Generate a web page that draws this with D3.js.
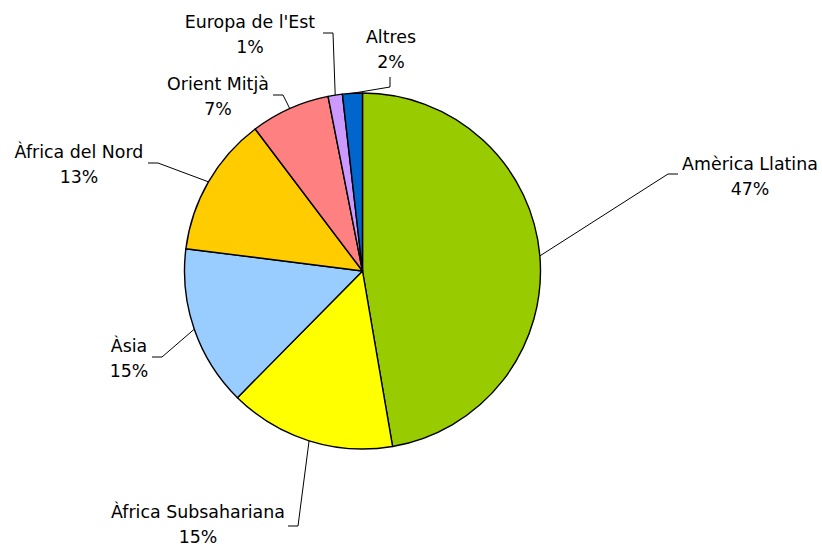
<!DOCTYPE html>
<html>
<head>
<meta charset="utf-8">
<script src="https://cdn.jsdelivr.net/npm/d3@7"></script>
<style>
  body { margin: 0; background: #fff; }
  text { font-family: "DejaVu Sans", Verdana, sans-serif; font-size: 17.4px; fill: #000; }
</style>
</head>
<body>
<script>
// Data (share of total, %), clockwise from 12 o'clock
const regions = ['Amèrica Llatina', 'Àfrica Subsahariana', 'Àsia', 'Àfrica del Nord', 'Orient Mitjà', "Europa de l'Est", 'Altres'];
const shares = [47.3, 15.1, 14.6, 12.7, 7.2, 1.3, 1.8];
const colors = ['#99cc00', '#ffff00', '#99ccff', '#ffcc00', '#ff8080', '#cc99ff', '#0066cc'];

// Label layout: text centre / first baseline, leader elbow and leader tail
const labelLayout = [
  {x: 750, y: 170, elbow: [668, 174], tail: [678, 174]},
  {x: 198, y: 518, elbow: [298, 526], tail: [288, 526]},
  {x: 129, y: 352, elbow: [162, 357], tail: [152, 357]},
  {x: 79, y: 158, elbow: [158, 163], tail: [148, 163]},
  {x: 218, y: 90, elbow: [283, 95], tail: [273, 95]},
  {x: 250, y: 28, elbow: [333, 33], tail: [323, 33]},
  {x: 391, y: 43, elbow: [390, 87], tail: [390, 77]}
];

const width = 822, height = 547;
const cx = 362.5, cy = 271, radius = 178;

const svg = d3.select('body').append('svg')
    .attr('width', width)
    .attr('height', height);

const total = d3.sum(shares);
const pie = d3.pie().sort(null).value(d => d)(shares);
const arc = d3.arc().innerRadius(0).outerRadius(radius);
const pct = d3.format('.0%');

const g = svg.append('g').attr('transform', `translate(${cx},${cy})`);

g.selectAll('path.slice')
    .data(pie)
    .join('path')
    .classed('slice', true)
    .attr('d', arc)
    .attr('fill', (d, i) => colors[i])
    .attr('stroke', '#000')
    .attr('stroke-width', 1.4)
    .attr('stroke-linejoin', 'round');

// leader lines
svg.selectAll('polyline.leader')
    .data(pie)
    .join('polyline')
    .classed('leader', true)
    .attr('points', (d, i) => {
      const a = (d.startAngle + d.endAngle) / 2;
      const p = [cx + radius * Math.sin(a), cy - radius * Math.cos(a)];
      const L = labelLayout[i];
      return [p, L.elbow, L.tail].map(q => q.join(',')).join(' ');
    })
    .attr('fill', 'none')
    .attr('stroke', '#000')
    .attr('stroke-width', 1);

// labels
const labels = svg.selectAll('text.label')
    .data(pie)
    .join('text')
    .classed('label', true)
    .attr('text-anchor', 'middle');

labels.append('tspan')
    .attr('x', (d, i) => labelLayout[i].x)
    .attr('y', (d, i) => labelLayout[i].y)
    .text((d, i) => regions[i]);

labels.append('tspan')
    .attr('x', (d, i) => labelLayout[i].x)
    .attr('y', (d, i) => labelLayout[i].y + 25)
    .text(d => pct(d.data / total));
</script>
</body>
</html>
